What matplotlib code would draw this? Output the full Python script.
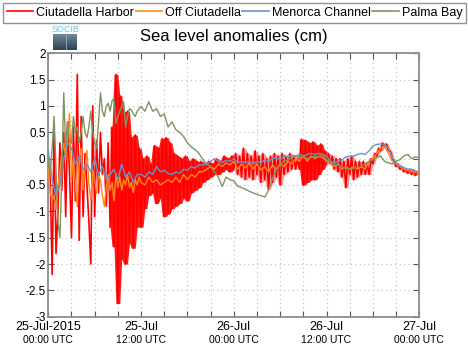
import numpy as np
import matplotlib
matplotlib.use("Agg")
import matplotlib.pyplot as plt
from matplotlib.lines import Line2D

plt.rcParams['font.family'] = ['Liberation Sans', 'DejaVu Sans']

# ---------------- data (hours since 25-Jul-2015 00:00 UTC, cm) ----------------
series_names = ["Ciutadella Harbor", "Off Ciutadella", "Menorca Channel", "Palma Bay"]
series_colors = ["#ff0000", "#ff8a1c", "#6a93c4", "#7f9460"]

# Ciutadella Harbor, every 0.25 h (alternating crests / troughs)
harbor_step = 0.25
harbor = [
    -0.1, -0.4, -2.2, 0.55, -1.8, -1.0, 0.3, -0.6, 0.5, -1.1, 0.7, -0.3,
    -1.5, 0.6, -0.8, 1.6, -1.55, 0.8, -1.1, 0.1, -0.5, -1.2, -2.0, 1.0,
    -1.1, 0.35, -0.65, 0.5, -0.3, 0.0, -0.9, 0.3, -1.3, 0.6, -1.67, 1.6,
    -2.75, 1.2, -1.9, 0.9, -2.0, 0.9, -1.6, 0.4, -1.7, 0.45, -1.3, 0.2,
    -1.3, 0.0, -0.95, 0.05, -0.7, -0.1, -0.65, 0.25, -0.85, 0.2, -0.75, 0.38,
    -1.1, 0.4, -1.05, 0.3, -0.95, 0.1, -0.9, 0.05, -0.85, 0.0, -0.75, 0.05,
    -0.8, -0.05, -0.65, 0.0, -0.6, -0.05, -0.55, -0.05, -0.45, -0.1, -0.4, -0.05,
    -0.35, -0.1, -0.3, 0.0, -0.3, -0.05, -0.25, 0.05, -0.2, 0.0, -0.25, 0.05,
    -0.2, 0.1, -0.3, 0.05, -0.35, 0.2, -0.4, 0.1, -0.35, 0.05, -0.4, 0.15,
    -0.3, 0.05, -0.45, 0.1, -0.4, 0.0, -0.58, 0.05, -0.45, 0.1, -0.35, 0.05,
    -0.5, 0.1, -0.3, 0.05, -0.25, 0.1, -0.2, 0.05, -0.2, 0.0, -0.2, 0.37,
    -0.5, 0.35, -0.45, 0.3, -0.4, 0.32, -0.4, 0.25, -0.3, 0.28, -0.2, 0.15,
    -0.1, 0.1, -0.1, 0.05, -0.2, 0.0, -0.25, 0.0, -0.35, -0.05, -0.55, 0.0,
    -0.3, 0.05, -0.4, -0.05, -0.35, -0.05, -0.3, -0.05, -0.3, -0.1, -0.3, 0.0,
    -0.1, 0.1, 0.05, 0.2, 0.15, 0.3, 0.22, 0.28, 0.15, 0.15, 0.0, -0.05,
    -0.15, -0.1, -0.2, -0.15, -0.25, -0.2, -0.28, -0.2, -0.3, -0.22, -0.32, -0.25,
    -0.3,
]
# periods (h) where the harbor record is a dense, saturated oscillation band
dense_periods = [(8.0, 24.0), (32.5, 36.0)]
light_periods = [(24.0, 32.5), (36.0, 48.0)]

# Off Ciutadella: every 0.25 h for 0-12 h, then every 0.5 h
offshore_fine = [
    -0.2, -0.65, -0.78, -0.7, -0.97, -0.53, -0.22, 0.1, 0.29, 0.0, 0.42, 0.86,
    -0.4, 0.04, -0.5, -0.91, -0.03, 0.2, -0.6, -0.2, 0.16, -0.5, -0.78, -0.22,
    -0.4, -0.66, -0.3, -0.41, -0.7, -0.91, -0.53, -0.3, -0.6, -0.45, -0.8, -0.3,
    -0.55, -0.35, -0.6, -0.4, -0.5, -0.3, -0.55, -0.45, -0.65, -0.4, -0.5, -0.35,
]
offshore_coarse = [
    -0.45, -0.5, -0.35, -0.45, -0.4, -0.5, -0.45, -0.4, -0.45, -0.35, -0.45, -0.3,
    -0.4, -0.3, -0.35, -0.25, -0.25, -0.2, -0.15, -0.2, -0.1, -0.15, -0.08, -0.12,
    -0.05, -0.2, -0.1, -0.18, -0.08, -0.2, -0.1, -0.22, -0.15, -0.25, -0.12, -0.2,
    -0.1, -0.15, -0.05, -0.1, 0.0, -0.05, 0.05, -0.05, 0.05, 0.0, 0.05, 0.02,
    -0.05, -0.1, -0.15, -0.1, -0.2, -0.15, -0.2, -0.15, -0.2, -0.15, -0.2, -0.05,
    0.0, 0.1, 0.2, 0.24, 0.1, -0.05, -0.1, -0.15, -0.2, -0.22, -0.25, -0.25,
    -0.28,
]

# Menorca Channel, every 0.5 h
channel = [
    0.15, -0.4, -0.7, -0.5, 0.0, 0.3, 0.2, -0.1, 0.05, -0.2, -0.1, -0.25,
    0.0, -0.3, -0.15, -0.4, -0.3, -0.2, -0.4, -0.1, -0.35, -0.25, -0.45, -0.3,
    -0.3, -0.35, -0.25, -0.3, -0.15, -0.25, -0.22, -0.28, -0.3, -0.25, -0.28, -0.2,
    -0.22, -0.15, -0.18, -0.12, -0.12, -0.1, -0.05, 0.0, -0.05, -0.08, -0.03, -0.05,
    0.0, -0.08, -0.05, -0.08, -0.05, -0.1, -0.05, -0.08, -0.02, -0.05, 0.0, 0.02,
    -0.02, 0.05, 0.03, 0.06, 0.05, 0.08, 0.05, 0.08, 0.1, 0.08, 0.1, 0.08,
    0.05, -0.05, -0.08, -0.05, -0.02, 0.03, 0.05, 0.05, 0.08, 0.1, 0.08, 0.15,
    0.24, 0.27, 0.28, 0.27, 0.2, 0.02, -0.08, -0.14, -0.17, -0.2, -0.2, -0.23,
    -0.25,
]

# Palma Bay: every 0.25 h for 0-12 h, then every 0.5 h
palma_fine = [
    0.0, -0.3, 0.2, 0.8, -0.2, -1.2, -1.5, -0.3, 1.25, 0.2, 0.7, 0.3,
    0.3, 0.8, 0.5, 0.6, 0.3, 0.5, 0.8, 0.5, 0.4, 0.6, 0.9, 0.5,
    0.3, 0.2, 0.7, 1.25, 0.9, 0.8, 1.0, 1.05, 0.9, 1.1, 1.14, 0.67,
    0.8, 0.9, 1.0, 1.08, 0.6, 0.8, 0.95, 0.92, 0.85, 0.8, 0.9, 0.95,
]
palma_coarse = [
    0.99, 0.9, 1.08, 0.9, 0.95, 0.8, 0.85, 0.6, 0.7, 0.55, 0.5, 0.42,
    0.3, 0.22, 0.17, 0.1, -0.02, -0.1, -0.15, -0.25, -0.35, -0.53, -0.35, -0.4,
    -0.42, -0.52, -0.55, -0.58, -0.62, -0.65, -0.68, -0.7, -0.73, -0.6, -0.38, -0.2,
    -0.1, -0.05, -0.02, 0.02, 0.05, 0.02, 0.04, 0.0, 0.02, 0.05, 0.03, 0.08,
    -0.02, -0.08, -0.1, -0.12, -0.17, -0.18, -0.2, -0.18, -0.17, -0.15, -0.1, -0.05,
    -0.02, 0.02, 0.05, -0.05, -0.08, -0.1, -0.05, -0.02, 0.05, 0.08, 0.0, 0.03,
    0.02,
]

tick_hours = [0, 12, 24, 36, 48]
tick_line1 = ["25-Jul-2015", "25-Jul", "26-Jul", "26-Jul", "27-Jul"]
tick_line2 = ["00:00 UTC", "12:00 UTC", "00:00 UTC", "12:00 UTC", "00:00 UTC"]
title = "Sea level anomalies (cm)"

# ---------------- time axes for the series ----------------
harbor = np.array(harbor)
t_harbor = np.arange(len(harbor)) * harbor_step
t_off = np.concatenate([np.arange(len(offshore_fine)) * 0.25,
                        12 + np.arange(len(offshore_coarse)) * 0.5])
off = offshore_fine + offshore_coarse
t_chan = np.arange(len(channel)) * 0.5
t_palma = np.concatenate([np.arange(len(palma_fine)) * 0.25,
                          12 + np.arange(len(palma_coarse)) * 0.5])
palma = palma_fine + palma_coarse

# band envelope of the harbor oscillation (running max/min of 3 samples)
band_hi = np.maximum.reduce([harbor[:-2], harbor[1:-1], harbor[2:]])
band_lo = np.minimum.reduce([harbor[:-2], harbor[1:-1], harbor[2:]])
t_band = t_harbor[1:-1]

# ---------------- figure ----------------
W, H = 468, 353
fig = plt.figure(figsize=(W / 100, H / 100), dpi=100)
ax = fig.add_axes([48.3 / W, 1 - 316.7 / H, (419.3 - 48.3) / W, (316.7 - 53.3) / H])

for periods, a in ((dense_periods, 0.9), (light_periods, 0.4)):
    for t0, t1 in periods:
        m = (t_band >= t0) & (t_band <= t1)
        ax.fill_between(t_band[m], band_lo[m], band_hi[m], color=series_colors[0],
                        lw=0, alpha=a, zorder=2)
ax.plot(t_harbor, harbor, color=series_colors[0], lw=1.2, zorder=2)
ax.plot(t_off, off, color=series_colors[1], lw=1.0, zorder=3)
ax.plot(t_chan, channel, color=series_colors[2], lw=1.0, zorder=4)
ax.plot(t_palma, palma, color=series_colors[3], lw=1.0, zorder=5)

ax.set_xlim(0, 48)
ax.set_ylim(-3, 2)
ax.set_xticks(np.arange(0, 48.1, 3))
ax.set_xticklabels([])
ax.set_yticks(np.arange(-3, 2.01, 0.5))
ax.set_yticklabels(["-3", "-2.5", "-2", "-1.5", "-1", "-0.5", "0", "0.5", "1", "1.5", "2"],
                   fontsize=8.5)
ax.tick_params(direction="in", length=4, width=0.8, color="#555555",
               top=True, right=True, pad=2)
ax.grid(True, linestyle=(0, (1, 3)), color="#bbbbbb", linewidth=0.8)
ax.set_axisbelow(True)
for s in ax.spines.values():
    s.set_color("#8c8c8c")
    s.set_linewidth(1.3)

xt = ax.get_xaxis_transform()
for h, l1, l2 in zip(tick_hours, tick_line1, tick_line2):
    ax.text(h, -0.038, l1, transform=xt, ha="center", va="center", fontsize=9)
    ax.text(h, -0.089, l2, transform=xt, ha="center", va="center", fontsize=7.5)

fig.text(234 / W, 1 - 36 / H, title, ha="center", va="center", fontsize=12)

# legend across top
handles = [Line2D([], [], color=c, lw=1.2) for c in series_colors]
leg = fig.legend(handles, series_names, loc="upper left", ncol=4,
                 bbox_to_anchor=(3 / W, 1 - 21 / H, 463 / W, 18 / H), mode="expand",
                 fontsize=9, frameon=True, fancybox=False, borderpad=0.3,
                 handlelength=2.1, handletextpad=0.25, columnspacing=0.3,
                 borderaxespad=0)
leg.get_frame().set_edgecolor("#777777")
leg.get_frame().set_linewidth(1.0)

# SOCIB logo
lax = fig.add_axes([53 / W, 1 - 50 / H, 24 / W, 16 / H])
grad = np.linspace(0, 1, 50).reshape(-1, 1)
lax.imshow(grad, aspect="auto", cmap=matplotlib.colors.LinearSegmentedColormap.from_list(
    "lg", ["#6f8a98", "#2c4250"]), extent=[0, 1, 0, 1])
lax.axvline(0.55, color="#9ab0bb", lw=0.6)
lax.set_axis_off()
fig.text(65 / W, 1 - 30 / H, "SOCIB", ha="center", va="center", fontsize=6.5,
         color="#6cc0d6")

fig.savefig("out.png", dpi=100)
